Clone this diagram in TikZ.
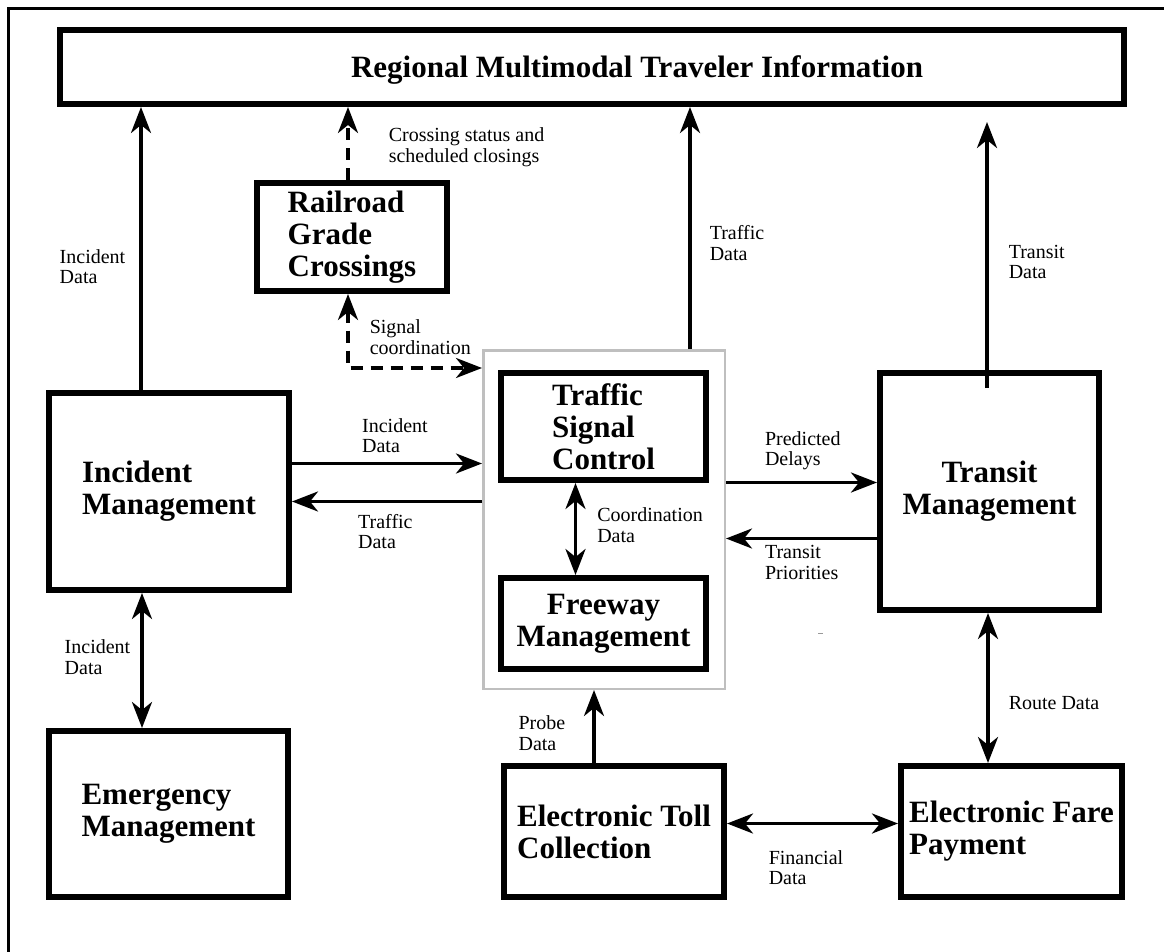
\documentclass[tikz,border=0pt]{standalone}
\usepackage{fontspec}
\setmainfont{Liberation Serif}
\usetikzlibrary{arrows.meta, positioning, calc}
\tikzset{
    itsdiagram/.style={x=1pt, y=-1pt, >={Stealth[length=26pt, width=20pt, inset=8pt]}},
    sysbox/.style={draw, line width=6pt, align=left, inner sep=0pt,
        font=\bfseries\fontsize{31}{32}\selectfont},
    headline/.style={inner sep=0pt, font=\bfseries\fontsize{31}{32}\selectfont},
    groupbox/.style={draw=black!25, line width=2.5pt, inner sep=0pt},
    flow/.style={->, line width=3.5pt},
    flowboth/.style={<->, line width=3.5pt},
    dashflow/.style={dash pattern=on 12pt off 8pt},
    lbl/.style={inner sep=0pt, align=left, font=\fontsize{20}{20.5}\selectfont},
}

\begin{document}
\begin{tikzpicture}[itsdiagram]
    \useasboundingbox (0,0) rectangle (1164,952);
    \draw[line width=3pt] (8,952) -- (8,9) -- (1164,9);

    % traffic group behind the two boxes
    \node[groupbox, minimum width=241.5pt, minimum height=338.5pt] (grp) at (604,519.5) {};

    \node[sysbox, minimum width=1064pt, minimum height=74pt] (rmti) at (592,67) {};
    \node[headline] (rmtitle) at ([xshift=45pt, yshift=-3pt]rmti.center) {Regional Multimodal Traveler Information};
    \node[sysbox, minimum width=190pt, minimum height=108pt] (rgc) at (352,237) {Railroad\\Grade\\Crossings};
    \node[sysbox, minimum width=240pt, minimum height=197pt] (ims) at (169,491.5) {Incident\\Management};
    \node[sysbox, minimum width=239pt, minimum height=166pt] (ems) at (168.5,814) {Emergency\\Management};
    \node[sysbox, minimum width=205pt, minimum height=107pt] (tsc) at (603.5,426.5) {Traffic\\Signal\\Control};
    \node[sysbox, minimum width=205pt, minimum height=91pt, align=center] (fms) at (603.5,623.5) {Freeway\\Management};
    \node[sysbox, minimum width=219pt, minimum height=237pt, align=center] (tms) at (989.5,491.5) {Transit\\Management};
    \node[sysbox, minimum width=220pt, minimum height=131pt] (etc) at (614,831.5) {Electronic Toll\\Collection};
    \node[sysbox, minimum width=221pt, minimum height=131pt] (efp) at (1011.5,831.5) {Electronic Fare\\Payment};

    \coordinate (sigin) at ([yshift=-19pt]grp.north west);
    \coordinate (tdbot) at ([xshift=-2.5pt, yshift=-18pt]tms.north);
    \coordinate (tdtop) at ([yshift=-15pt]tdbot |- rmti.south);

    % up to traveler information
    \draw[flow] ([xshift=-28pt]ims.north) -- node[lbl, pos=.435, anchor=east, xshift=-14pt] {Incident\\Data} ([xshift=-28pt]ims.north |- rmti.south);
    \draw[flow, dashflow] ([xshift=-4pt]rgc.north) -- node[lbl, pos=.45, anchor=west, xshift=39pt] {Crossing status and\\scheduled closings} ([xshift=-4pt]rgc.north |- rmti.south);
    \draw[flow] ([xshift=86pt]grp.north) -- node[lbl, pos=.438, anchor=west, xshift=18pt] {Traffic\\Data} ([xshift=86pt]grp.north |- rmti.south);
    \draw[flow] (tdbot) -- node[lbl, pos=.474, anchor=west, xshift=20pt] {Transit\\Data} (tdtop);

    \draw[flowboth, dashflow] ([xshift=-4pt]rgc.south) |- node[lbl, pos=.29, anchor=west, xshift=20pt] {Signal\\coordination} (sigin);

    \draw[flow] ([yshift=28pt]ims.east) -- node[lbl, pos=.36, anchor=west, yshift=28pt] {Incident\\Data} ([yshift=28pt]ims.east -| grp.west);
    \draw[flow] ([yshift=-10pt]ims.east -| grp.west) -- node[lbl, pos=.661, anchor=west, yshift=-30pt] {Traffic\\Data} ([yshift=-10pt]ims.east);
    \draw[flowboth] ([xshift=-28pt]tsc.south) -- node[lbl, pos=.457, anchor=west, xshift=20pt] {Coordination\\Data} ([xshift=-28pt]fms.north);
    \draw[flow] ([yshift=9pt]tms.west -| grp.east) -- node[lbl, pos=.247, anchor=west, yshift=32pt] {Predicted\\Delays} ([yshift=9pt]tms.west);
    \draw[flow] ([yshift=-47pt]tms.west) -- node[lbl, pos=.753, anchor=west, yshift=-24pt] {Transit\\Priorities} ([yshift=-47pt]tms.west -| grp.east);

    \draw[flowboth] ([xshift=-27pt]ims.south) -- node[lbl, pos=.474, anchor=east, xshift=-10pt] {Incident\\Data} ([xshift=-27pt]ims.south |- ems.north);
    \draw[flow] ([xshift=-20pt]etc.north) -- node[lbl, pos=.41, anchor=east, xshift=-27pt] {Probe\\Data} ([xshift=-20pt]etc.north |- grp.south);
    \draw[flowboth] ([xshift=-1.5pt]tms.south) -- node[lbl, pos=.6, anchor=west, xshift=19pt] {Route Data} ([xshift=-1.5pt]tms.south |- efp.north);
    \draw[flowboth] ([yshift=8pt]etc.east) -- node[lbl, pos=.234, anchor=west, yshift=-44pt] {Financial\\Data} ([yshift=8pt]etc.east -| efp.west);

    \draw[black!40, line width=1pt] (818,633) -- (823,633);
\end{tikzpicture}
\end{document}
